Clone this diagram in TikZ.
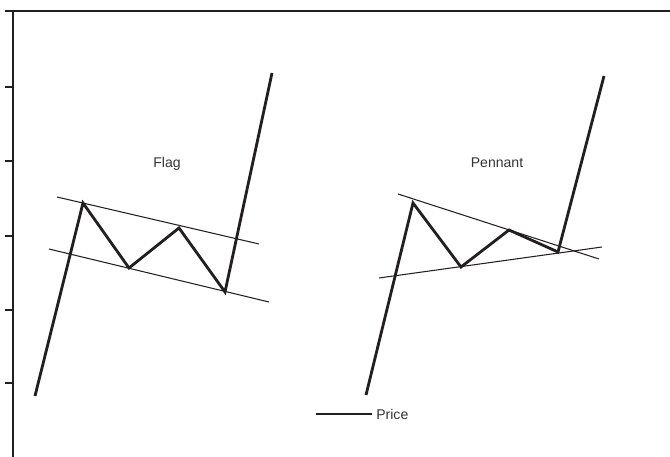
\documentclass[tikz,border=0pt]{standalone}
\usepackage{fontspec}
\setmainfont{Liberation Sans}
\usepackage{xcolor}
\usetikzlibrary{positioning}
\definecolor{ink}{HTML}{231F20}
\definecolor{inkgray}{HTML}{333333}
\tikzset{
  axisline/.style={draw=ink,line width=1.3pt},
  tickline/.style={draw=ink,line width=0.8pt},
  priceline/.style={draw=ink,line width=2pt,line join=miter},
  trendline/.style={draw=ink,line width=0.75pt},
  charttitle/.style={font=\fontsize{10}{11}\selectfont,text=inkgray,inner sep=0pt}
}

\begin{document}
\begin{tikzpicture}[x=0.025cm,y=-0.025cm]
      \useasboundingbox (0,0) rectangle (670,457);
      % frame
      \draw[axisline] (5,11) -- (670,11);
      \draw[axisline] (13,11) -- (13,457);
      \foreach \ty in {87,161,236,310,383}
        \draw[tickline] (5,\ty) -- (13,\ty);

      % flag
      \coordinate (f0) at (35,396);
      \coordinate (f1) at (83,203);
      \coordinate (f2) at (129,268);
      \coordinate (f3) at (179,228);
      \coordinate (f4) at (225,292);
      \coordinate (f5) at (272,73);
      \draw[trendline] (57,197) -- (259,244);
      \draw[trendline] (49,249) -- (269,302);
      \draw[priceline] (f0) -- (f1) -- (f2) -- (f3) -- (f4) -- (f5);
      \node[charttitle] (flagtitle) at (167,164) {Flag};

      % pennant
      \coordinate (p0) at (366,395);
      \coordinate (p1) at (413,203);
      \coordinate (p2) at (461,267);
      \coordinate (p3) at (509,230);
      \coordinate (p4) at (558,252);
      \coordinate (p5) at (604,76);
      \draw[trendline] (398,194) -- (599,259);
      \draw[trendline] (379,278) -- (602,247);
      \draw[priceline] (p0) -- (p1) -- (p2) -- (p3) -- (p4) -- (p5);
      \node[charttitle] (penntitle) at (497,163) {Pennant};

      % legend
      \coordinate (legA) at (316,414);
      \coordinate (legB) at (372,414);
      \draw[priceline] (legA) -- (legB);
      \node[charttitle,anchor=west,right=4 of legB] (legtext) {Price};
    \end{tikzpicture}
\end{document}
